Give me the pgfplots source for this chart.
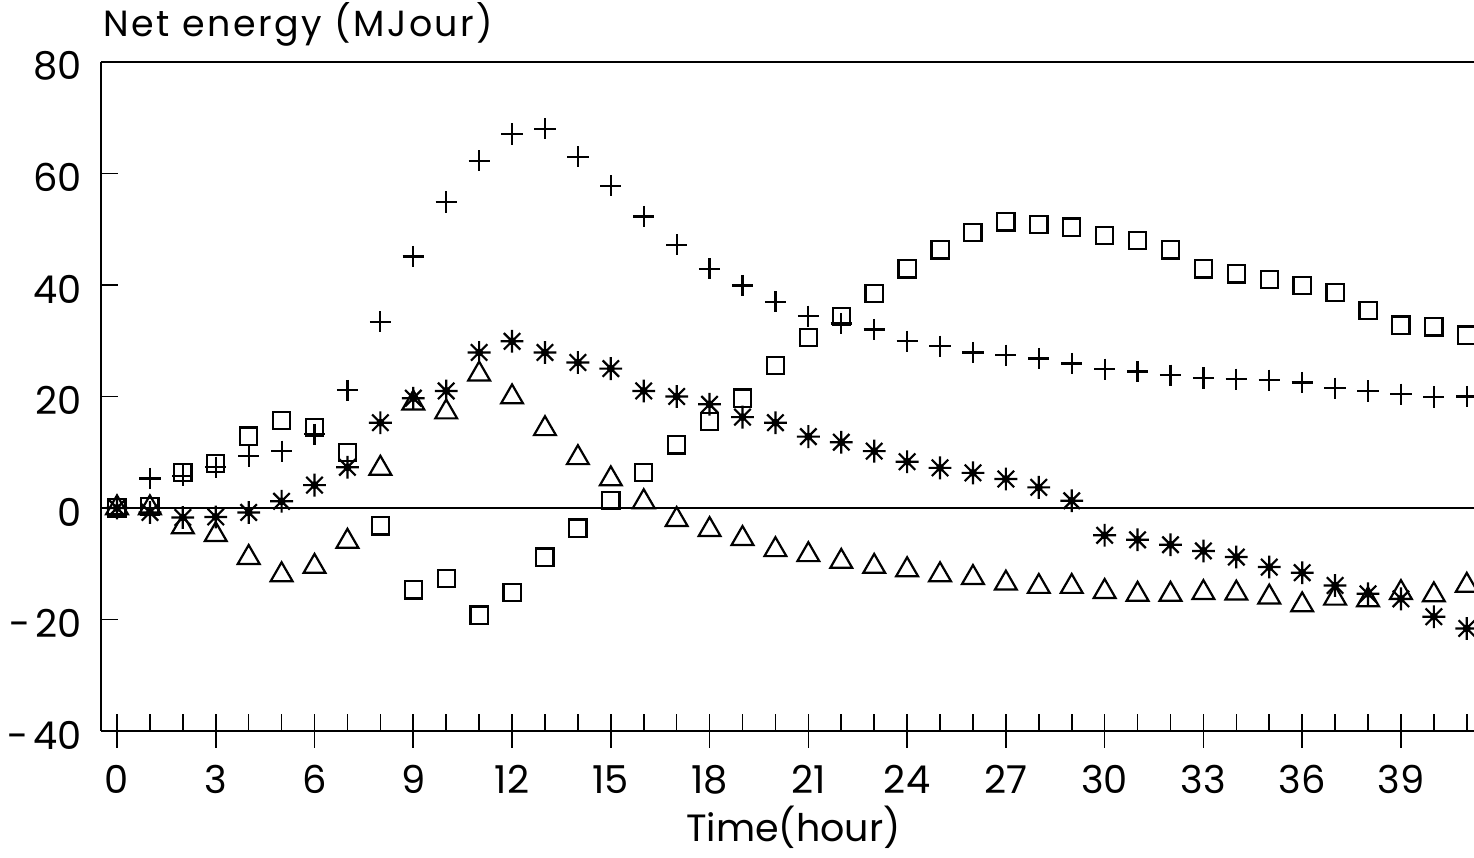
\documentclass[border=0pt]{standalone}
\usepackage{fontspec}
\setmainfont{Poppins}
\newfontfamily\titlefont{Poppins}[LetterSpace=7]
\usepackage{pgfplots}
\pgfplotsset{compat=1.18}

% eight-armed asterisk with a filled hub
\pgfdeclareplotmark{star8}{%
  \pgfpathmoveto{\pgfqpoint{-\pgfplotmarksize}{0pt}}%
  \pgfpathlineto{\pgfqpoint{\pgfplotmarksize}{0pt}}%
  \pgfpathmoveto{\pgfqpoint{0pt}{-\pgfplotmarksize}}%
  \pgfpathlineto{\pgfqpoint{0pt}{\pgfplotmarksize}}%
  \pgfpathmoveto{\pgfqpoint{-.72\pgfplotmarksize}{-.72\pgfplotmarksize}}%
  \pgfpathlineto{\pgfqpoint{.72\pgfplotmarksize}{.72\pgfplotmarksize}}%
  \pgfpathmoveto{\pgfqpoint{-.72\pgfplotmarksize}{.72\pgfplotmarksize}}%
  \pgfpathlineto{\pgfqpoint{.72\pgfplotmarksize}{-.72\pgfplotmarksize}}%
  \pgfusepathqstroke
  \pgfpathcircle{\pgfpointorigin}{.25\pgfplotmarksize}%
  \pgfusepathqfillstroke
}

\pgfplotstableread{
t  E
0  0
1  5.3
2  5.8
3  7.3
4  9.3
5  10.2
6  13.2
7  21.1
8  33.4
9  45.1
10 54.9
11 62.3
12 67.1
13 68.0
14 63.0
15 57.8
16 52.3
17 47.2
18 42.9
19 39.9
20 37.0
21 34.4
22 33.1
23 32.0
24 29.9
25 29.0
26 27.9
27 27.4
28 26.8
29 25.9
30 24.9
31 24.5
32 23.8
33 23.3
34 23.1
35 22.9
36 22.5
37 21.5
38 21.0
39 20.4
40 19.9
41 20.0
}\plusdata

\pgfplotstableread{
t  E
0  0
1  0.3
2  6.4
3  8.0
4  12.9
5  15.7
6  14.4
7  10.0
8  -3.2
9  -14.7
10 -12.7
11 -19.2
12 -15.2
13 -8.8
14 -3.6
15 1.3
16 6.4
17 11.3
18 15.5
19 19.7
20 25.6
21 30.6
22 34.3
23 38.5
24 42.9
25 46.3
26 49.4
27 51.3
28 50.8
29 50.4
30 48.9
31 48.0
32 46.3
33 42.9
34 42.0
35 41.0
36 39.9
37 38.6
38 35.4
39 32.8
40 32.5
41 31.0
}\squaredata

\pgfplotstableread{
t  E
0  0
1  -0.8
2  -1.7
3  -1.6
4  -0.8
5  1.2
6  4.1
7  7.3
8  15.3
9  19.7
10 21.0
11 27.9
12 29.9
13 27.9
14 26.1
15 25.0
16 21.0
17 20.0
18 18.6
19 16.3
20 15.3
21 12.8
22 11.8
23 10.2
24 8.3
25 7.2
26 6.3
27 5.2
28 3.7
29 1.3
30 -4.9
31 -5.7
32 -6.6
33 -7.7
34 -8.8
35 -10.6
36 -11.6
37 -13.9
38 -15.4
39 -16.3
40 -19.5
41 -21.6
}\stardata

\pgfplotstableread{
t  E
0  0
1  0
2  -3.4
3  -4.8
4  -8.9
5  -12.0
6  -10.5
7  -6.0
8  7.1
9  18.8
10 17.2
11 24.0
12 19.9
13 14.2
14 9.0
15 5.2
16 1.1
17 -2.1
18 -3.9
19 -5.5
20 -7.5
21 -8.4
22 -9.6
23 -10.5
24 -11.1
25 -12.0
26 -12.5
27 -13.5
28 -14.1
29 -14.1
30 -15.0
31 -15.5
32 -15.5
33 -15.2
34 -15.3
35 -16.0
36 -17.4
37 -16.2
38 -16.5
39 -15.2
40 -15.6
41 -13.9
}\triangledata

\begin{document}
\begin{tikzpicture}
\begin{axis}[
  scale only axis,
  width=686.5pt, height=334.5pt,
  xmin=-0.486, xmax=41.22,
  ymin=-40, ymax=80,
  separate axis lines,
  axis x line*=box,
  axis y line*=left,
  axis line style={line width=1pt},
  xtick pos=bottom, ytick pos=left,
  tick align=inside,
  major tick length=8.5pt,
  tick style={line width=0.8pt, black},
  xtick={0,1,...,41},
  xticklabels={0,,,3,,,6,,,9,,,12,,,15,,,18,,,21,,,24,,,27,,,30,,,33,,,36,,,39,,},
  extra x ticks={0,3,...,39},
  extra x tick labels={},
  extra x tick style={tick align=outside},
  ytick={-40,-20,0,20,40,60,80},
  yticklabels={{-\kern.12em40},{-\kern.12em20},0,20,40,60,80},
  xticklabel style={font=\fontsize{19.2pt}{22pt}\selectfont, anchor=base, inner sep=0pt, yshift=-31.5pt},
  yticklabel style={font=\fontsize{19.2pt}{22pt}\selectfont, anchor=east, inner sep=0pt, xshift=-9.5pt, yshift=-2pt},
  xlabel={Time(hour)},
  xlabel style={font=\fontsize{19pt}{23pt}\selectfont, at={(axis description cs:0.5,0)}, anchor=base, inner sep=0pt, xshift=3pt, yshift=-55.5pt},
  clip mode=individual,
  clip marker paths=true,
  every axis plot/.append style={only marks, black, line width=1.1pt},
]
\addplot[mark=+, mark size=5.3pt] table[x=t, y=E] {\plusdata};
\addplot[mark=square, mark size=4.3pt] table[x=t, y=E] {\squaredata};
\addplot[mark=star8, mark size=5.7pt] table[x=t, y=E] {\stardata};
\addplot[mark=triangle, mark size=6.3pt] table[x=t, y=E] {\triangledata};
\draw[line width=0.8pt] (axis cs:-0.486,0) -- (axis cs:41.22,0);
\coordinate (tl) at (rel axis cs:0,1);
\coordinate (bl) at (rel axis cs:0,0);
\coordinate (tr) at (rel axis cs:1,1);
\end{axis}
\node[anchor=base west, inner sep=0pt, font=\titlefont\fontsize{18.2pt}{21pt}\selectfont] at ([xshift=1pt,yshift=12.5pt]tl) {Net energy (MJour)};
\pgfresetboundingbox
\path[use as bounding box] ([xshift=-50.5pt,yshift=-63.5pt]bl) rectangle ([yshift=31pt]tr);
\end{tikzpicture}
\end{document}
